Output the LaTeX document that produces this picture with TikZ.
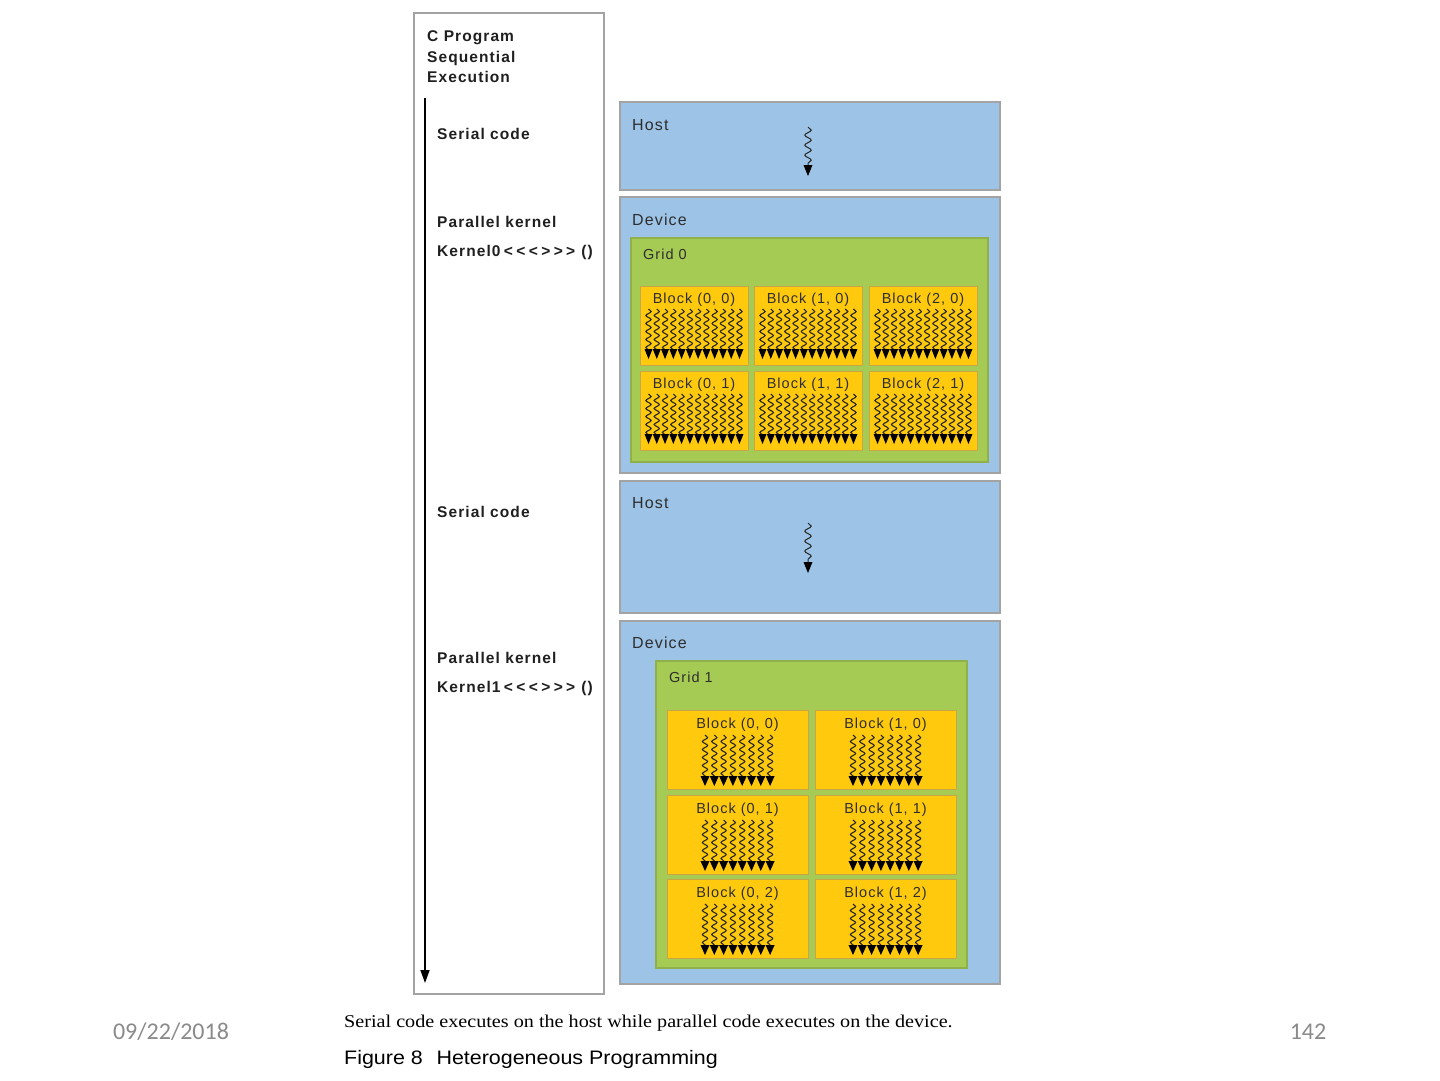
\documentclass[tikz,border=0pt]{standalone}
\usepackage{fontspec}
\setmainfont{Liberation Sans}
\newfontfamily\capserif[FakeStretch=1.12]{Liberation Serif}
\newfontfamily\capsans[FakeStretch=1.1]{Liberation Sans}
\newfontfamily\footfont{Carlito}
\newfontfamily\spaced[LetterSpace=7]{Liberation Sans}
\usetikzlibrary{arrows.meta,decorations.pathmorphing}
\definecolor{hostblue}{HTML}{9DC3E6}
\definecolor{boxgray}{HTML}{A3A3A3}
\definecolor{gridgreen}{HTML}{A6CB55}
\definecolor{gridedge}{HTML}{8FB04A}
\definecolor{blockyellow}{HTML}{FFC90E}
\definecolor{blockedge}{HTML}{C8A648}
\definecolor{footgray}{HTML}{8A8A8A}
\newcommand{\kb}{\hspace{3.4pt}}
\tikzset{
  panel/.style={draw=boxgray, line width=1.5pt, fill=hostblue, anchor=north west, inner sep=0pt, outer sep=0pt},
  leftpanel/.style={draw=boxgray, line width=1.5pt, fill=white, anchor=north west, inner sep=0pt, outer sep=0pt},
  gridbox/.style={draw=gridedge, line width=1.2pt, fill=gridgreen, anchor=north west, inner sep=0pt, outer sep=0pt},
  blk/.style={draw=blockedge, line width=1pt, fill=blockyellow, anchor=north west, inner sep=0pt, outer sep=0pt},
  steptext/.style={anchor=base west, inner sep=0pt, font=\spaced\fontsize{15.5}{18}\selectfont\bfseries, text=black!88},
  paneltext/.style={anchor=base west, inner sep=0pt, font=\spaced\fontsize{16}{18}\selectfont, text=black!82},
  gridtext/.style={anchor=base west, inner sep=0pt, font=\spaced\fontsize{14.5}{16}\selectfont, text=black!82},
  blab/.style={anchor=base, inner sep=0pt, font=\spaced\fontsize{14.5}{16}\selectfont, text=black!82},
  wave/.style={draw=black!85, line width=1.1pt, decorate, decoration={snake, segment length=8pt, amplitude=2.6pt}},
  hostwave/.style={draw=black!85, line width=1pt, decorate, decoration={snake, segment length=10pt, amplitude=3.2pt}},
  tip/.style={fill=black},
}
\begin{document}
\begin{tikzpicture}[x=1pt,y=-1pt]
\useasboundingbox[fill=white] (0,0) rectangle (1440,1080);

% left column
\node[leftpanel, minimum width=190pt, minimum height=981pt] (left) at (414,13) {};
\node[steptext] (t1) at (427,41) {C Program};
\node[steptext] (t2) at (427,62) {Sequential};
\node[steptext] (t3) at (427,82) {Execution};
\coordinate (arrtop) at (425,98);
\coordinate (arrbot) at (425,983);
\draw[line width=1.5pt, -{Triangle[width=9pt,length=13pt]}] (arrtop) -- (arrbot);
\node[steptext] (s1) at (437,139) {Serial code};
\node[steptext] (p1) at (437,227) {Parallel kernel};
\node[steptext] (k0) at (437,256) {Kernel0\kb<\kb<\kb<\kb>\kb>\kb>\hspace{6pt}()};
\node[steptext] (s2) at (437,517) {Serial code};
\node[steptext] (p2) at (437,663) {Parallel kernel};
\node[steptext] (k1) at (437,692) {Kernel1\kb<\kb<\kb<\kb>\kb>\kb>\hspace{6pt}()};

% host 1
\node[panel, minimum width=380pt, minimum height=88pt] (host1) at (620,102) {};
\node[paneltext] (h1l) at (632,130) {Host};
\coordinate (hw1a) at (808,127);
\coordinate (hw1b) at (808,166);
\draw[hostwave] (hw1a) -- (hw1b);
\fill[tip] (803.5,165) -- (812.5,165) -- (808,176) -- cycle;

% device 1
\node[panel, minimum width=380pt, minimum height=276pt] (dev1) at (620,197) {};
\node[paneltext] (d1l) at (632,225) {Device};
\node[gridbox, minimum width=357pt, minimum height=224pt] (grid0) at (631,238) {};
\node[gridtext] (g0l) at (643,259) {Grid 0};
\foreach \c/\x in {0/640,1/754,2/869}{
  \foreach \r/\y in {0/286,1/371}{
    \node[blk, minimum width=108pt, minimum height=79pt] (g0b\c\r) at (\x,\y) {};
    \node[blab] at ([yshift=-17pt]g0b\c\r.north) {Block (\c, \r)};
    \foreach \i in {0,...,11}{
      \draw[wave] (\x+8.5+\i*8.27,\y+23) -- (\x+8.5+\i*8.27,\y+64);
      \fill[tip] (\x+4.5+\i*8.27,\y+63) -- (\x+12.5+\i*8.27,\y+63) -- (\x+8.5+\i*8.27,\y+73) -- cycle;
    }
  }
}

% host 2
\node[panel, minimum width=380pt, minimum height=132pt] (host2) at (620,481) {};
\node[paneltext] (h2l) at (632,508) {Host};
\coordinate (hw2a) at (808,523);
\coordinate (hw2b) at (808,563);
\draw[hostwave] (hw2a) -- (hw2b);
\fill[tip] (803.5,562) -- (812.5,562) -- (808,573) -- cycle;

% device 2
\node[panel, minimum width=380pt, minimum height=363pt] (dev2) at (620,621) {};
\node[paneltext] (d2l) at (632,648) {Device};
\node[gridbox, minimum width=311pt, minimum height=307pt] (grid1) at (656,661) {};
\node[gridtext] (g1l) at (669,682) {Grid 1};
\foreach \c/\x in {0/667,1/815}{
  \foreach \r/\y in {0/710,1/795,2/879}{
    \node[blk, minimum width=141pt, minimum height=79pt] (g1b\c\r) at (\x,\y) {};
    \node[blab] at ([yshift=-18pt]g1b\c\r.north) {Block (\c, \r)};
    \foreach \i in {0,...,7}{
      \draw[wave] (\x+38+\i*9.3,\y+25) -- (\x+38+\i*9.3,\y+67);
      \fill[tip] (\x+33.5+\i*9.3,\y+66) -- (\x+42.5+\i*9.3,\y+66) -- (\x+38+\i*9.3,\y+76) -- cycle;
    }
  }
}

% caption and footer
\node[anchor=base west, inner sep=0pt, font=\capserif\fontsize{18}{20}\selectfont] (cap1) at (344,1027) {Serial code executes on the host while parallel code executes on the device.};
\node[anchor=base west, inner sep=0pt, font=\capsans\fontsize{19.5}{22}\selectfont] (cap2) at (344,1064) {Figure 8\hspace{0.7em}Heterogeneous Programming};
\node[anchor=base, inner sep=0pt, font=\footfont\fontsize{24}{26}\selectfont, text=footgray] (date) at (171,1039) {09/22/2018};
\node[anchor=base, inner sep=0pt, font=\footfont\fontsize{24}{26}\selectfont, text=footgray] (page) at (1308,1039) {142};
\end{tikzpicture}
\end{document}
